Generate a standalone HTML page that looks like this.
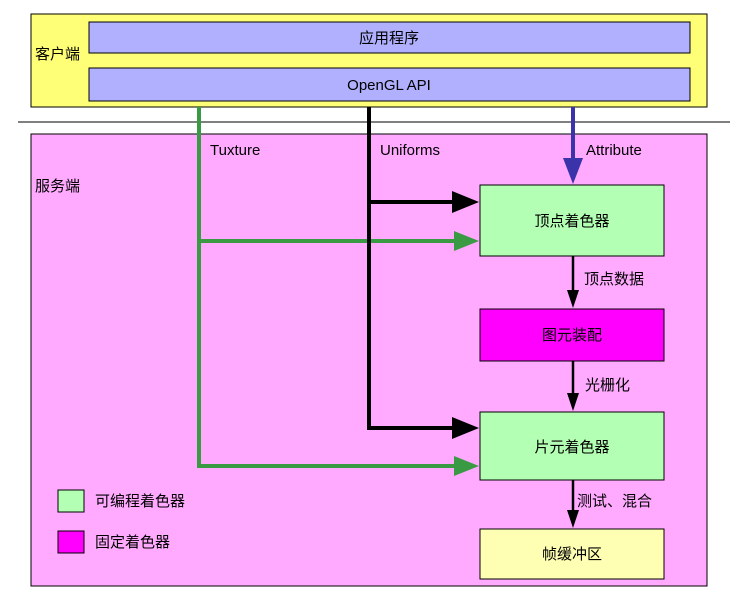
<!DOCTYPE html>
<html><head><meta charset="utf-8"><style>
body{margin:0;background:#fff;}
svg text{font-family:"Liberation Sans","Noto Sans CJK SC",sans-serif;font-size:15px;fill:#000;}
</style></head><body>
<svg width="740" height="596" viewBox="0 0 740 596" xmlns="http://www.w3.org/2000/svg">
<rect x="31" y="14" width="676" height="93" fill="#ffff77" stroke="#000" stroke-width="1"/>
<rect x="89" y="22" width="601" height="31" fill="#b0b0ff" stroke="#000"/>
<rect x="89" y="68" width="601" height="33" fill="#b0b0ff" stroke="#000"/>
<text x="389" y="43" text-anchor="middle">应用程序</text>
<text x="389" y="90" text-anchor="middle">OpenGL API</text>
<text x="35" y="59">客户端</text>
<line x1="18" y1="122" x2="730" y2="122" stroke="#000" stroke-width="1"/>
<rect x="31" y="134" width="676" height="452" fill="#ffaaff" stroke="#000"/>
<text x="35" y="191">服务端</text>
<rect x="480" y="185" width="184" height="71" fill="#b3ffb3" stroke="#000"/>
<rect x="480" y="309" width="184" height="52" fill="#ff00ff" stroke="#000"/>
<rect x="480" y="412" width="184" height="68" fill="#b3ffb3" stroke="#000"/>
<rect x="480" y="529" width="184" height="50" fill="#ffffb3" stroke="#000"/>
<text x="572" y="226" text-anchor="middle">顶点着色器</text>
<text x="572" y="340" text-anchor="middle">图元装配</text>
<text x="572" y="452" text-anchor="middle">片元着色器</text>
<text x="572" y="559" text-anchor="middle">帧缓冲区</text>
<polyline points="199,107 199,466 458,466" fill="none" stroke="#3a9a44" stroke-width="4"/>
<line x1="199" y1="241" x2="458" y2="241" stroke="#3a9a44" stroke-width="4"/>
<polygon points="454,231 479,241 454,251" fill="#3a9a44"/>
<polygon points="454,456 479,466 454,476" fill="#3a9a44"/>
<polyline points="369,107 369,428 458,428" fill="none" stroke="#000" stroke-width="4"/>
<line x1="369" y1="202" x2="458" y2="202" stroke="#000" stroke-width="4"/>
<polygon points="452,191 479,202 452,213" fill="#000"/>
<polygon points="452,417 479,428 452,439" fill="#000"/>
<line x1="573" y1="107" x2="573" y2="162" stroke="#3b33aa" stroke-width="4"/>
<polygon points="563,158 573,184 583,158" fill="#3b33aa"/>
<text x="210" y="155">Tuxture</text>
<text x="380" y="155">Uniforms</text>
<text x="586" y="155">Attribute</text>
<line x1="573" y1="256" x2="573" y2="292" stroke="#000" stroke-width="2.5"/>
<polygon points="567,290 573,308 579,290" fill="#000"/>
<line x1="573" y1="361" x2="573" y2="395" stroke="#000" stroke-width="2.5"/>
<polygon points="567,393 573,411 579,393" fill="#000"/>
<line x1="573" y1="480" x2="573" y2="512" stroke="#000" stroke-width="2.5"/>
<polygon points="567,510 573,528 579,510" fill="#000"/>
<text x="584" y="284">顶点数据</text>
<text x="585" y="390">光栅化</text>
<text x="577" y="506">测试、混合</text>
<rect x="58" y="490" width="26" height="22" fill="#b3ffb3" stroke="#000"/>
<rect x="58" y="531" width="26" height="22" fill="#ff00ff" stroke="#000"/>
<text x="95" y="506">可编程着色器</text>
<text x="95" y="547">固定着色器</text>
</svg>
</body></html>
